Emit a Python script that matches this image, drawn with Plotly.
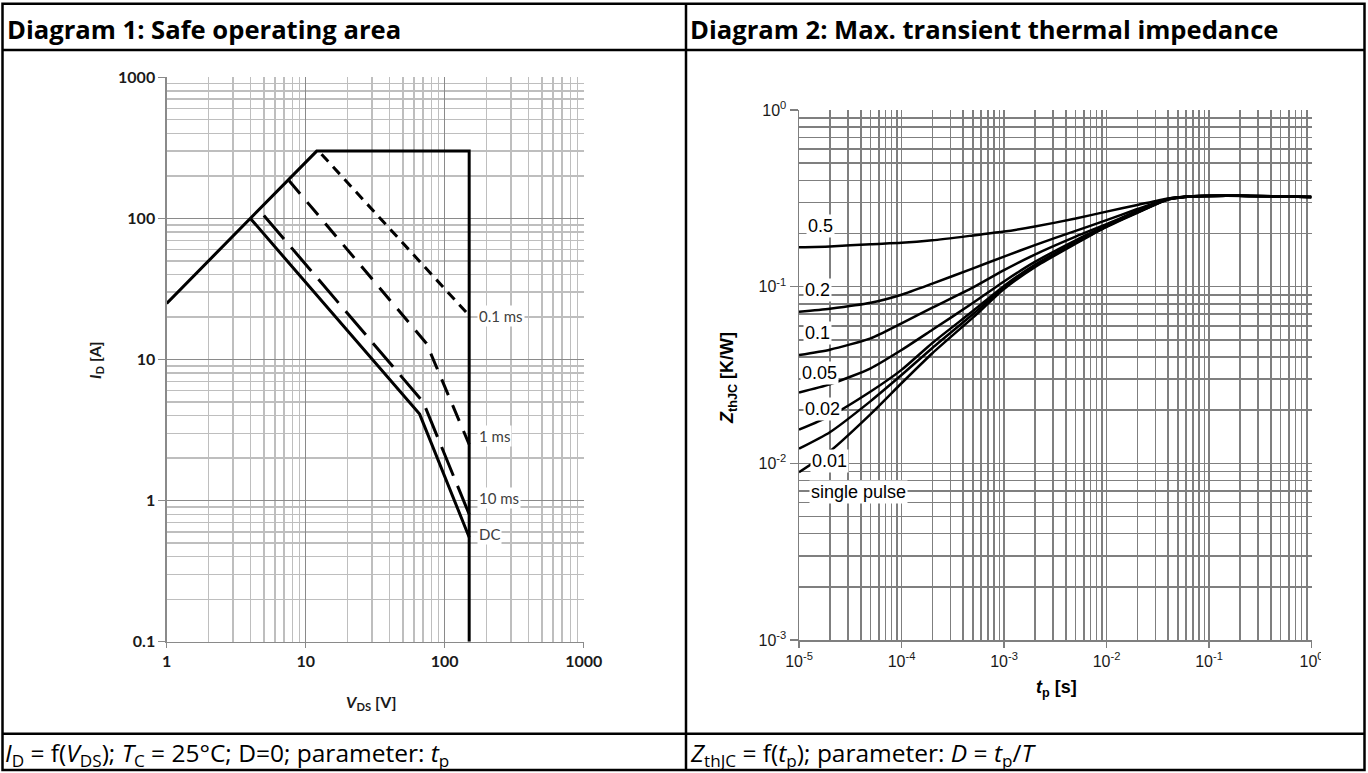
import math
import plotly.graph_objects as go

W, H = 1368, 773

# ---------------- Diagram 1: Safe operating area ----------------
SOA_LIMIT_V = [1, 12, 150, 150]
SOA_LIMIT_I = [25, 300, 300, 0.1]
TP_01MS_V = [13, 150]
TP_01MS_I = [285, 20.5]
TP_1MS_V = [7.6, 74, 150]
TP_1MS_I = [185, 13, 2.5]
TP_10MS_V = [5, 70, 150]
TP_10MS_I = [105, 5.0, 0.8]
DC_V = [4, 66, 150]
DC_I = [100, 4.1, 0.55]
SOA_X_TICKS = [1, 10, 100, 1000]
SOA_X_LABELS = ["1", "10", "100", "1000"]
SOA_Y_TICKS = [0.1, 1, 10, 100, 1000]
SOA_Y_LABELS = ["0.1", "1", "10", "100", "1000"]
SOA_NAMES = ["0.1 ms", "1 ms", "10 ms", "DC"]

# ---------------- Diagram 2: transient thermal impedance ----------------
ZTH_T = [1e-5, 2e-5, 5e-5, 1e-4, 2e-4, 5e-4, 1e-3, 2e-3, 5e-3, 1e-2, 2e-2, 4e-2, 7e-2, 1.5e-1, 2.5e-1, 1]
Z_D05 = [0.167, 0.169, 0.174, 0.177, 0.183, 0.195, 0.205, 0.219, 0.243, 0.266, 0.290, 0.316, 0.325, 0.327, 0.326, None]
Z_D02 = [0.072, 0.075, 0.081, 0.090, 0.104, 0.127, 0.148, 0.172, 0.207, 0.238, 0.275, 0.315, 0.325, 0.327, 0.326, 0.322]
Z_D01 = [0.041, 0.044, 0.051, 0.062, 0.076, 0.099, 0.124, 0.152, 0.192, 0.226, 0.268, 0.313, 0.325, 0.327, 0.326, 0.322]
Z_D005 = [0.0252, 0.028, 0.0345, 0.0438, 0.057, 0.081, 0.107, 0.138, 0.183, 0.222, 0.266, 0.313, 0.325, 0.327, 0.326, 0.322]
Z_D002 = [0.0155, 0.0185, 0.0255, 0.0338, 0.048, 0.073, 0.101, 0.133, 0.179, 0.220, 0.264, 0.312, 0.325, 0.327, 0.326, 0.322]
Z_D001 = [0.0121, 0.015, 0.0225, 0.0316, 0.045, 0.070, 0.099, 0.131, 0.177, 0.219, 0.263, 0.312, 0.325, 0.327, 0.326, 0.322]
Z_SINGLE = [0.0089, 0.0117, 0.019, 0.0284, 0.042, 0.067, 0.097, 0.129, 0.175, 0.218, 0.262, 0.311, 0.325, 0.327, 0.326, 0.322]
ZTH_X_TICKS = [1e-5, 1e-4, 1e-3, 1e-2, 1e-1, 1]
ZTH_X_LABELS = ["10<sup>-5</sup>", "10<sup>-4</sup>", "10<sup>-3</sup>", "10<sup>-2</sup>", "10<sup>-1</sup>", "10<sup>0</sup>"]
ZTH_Y_TICKS = [1e-3, 1e-2, 1e-1, 1]
ZTH_Y_LABELS = ["10<sup>-3</sup>", "10<sup>-2</sup>", "10<sup>-1</sup>", "10<sup>0</sup>"]
ZTH_NAMES = ["0.5", "0.2", "0.1", "0.05", "0.02", "0.01", "single pulse"]


def px_x(p):
    return p / W


def px_y(p):
    return 1 - p / H


fig = go.Figure()

soa_style = dict(color="black", width=3)
fig.add_trace(go.Scatter(x=SOA_LIMIT_V, y=SOA_LIMIT_I, mode="lines", line=soa_style, xaxis="x", yaxis="y"))
fig.add_trace(go.Scatter(x=TP_01MS_V, y=TP_01MS_I, mode="lines",
                         line=dict(color="black", width=3, dash="10px,7px"), xaxis="x", yaxis="y"))
fig.add_trace(go.Scatter(x=TP_1MS_V, y=TP_1MS_I, mode="lines",
                         line=dict(color="black", width=3, dash="17px,11px"), xaxis="x", yaxis="y"))
fig.add_trace(go.Scatter(x=TP_10MS_V, y=TP_10MS_I, mode="lines",
                         line=dict(color="black", width=3, dash="31px,11px"), xaxis="x", yaxis="y"))
fig.add_trace(go.Scatter(x=DC_V, y=DC_I, mode="lines", line=soa_style, xaxis="x", yaxis="y"))

for zs in [Z_D05, Z_D02, Z_D01, Z_D005, Z_D002, Z_D001, Z_SINGLE]:
    fig.add_trace(go.Scatter(x=ZTH_T, y=zs, mode="lines",
                             line=dict(color="black", width=2.5, shape="spline", smoothing=0.6),
                             xaxis="x2", yaxis="y2"))

maj1 = "#8a8a8a"
min1 = "#bebebe"
grid2 = "#7f7f7f"
calibri = "Lato"
arial = "Liberation Sans"
doc = "Open Sans"

common = dict(type="log", tickmode="array", automargin=False, zeroline=False, showgrid=True,
              showline=True, ticks="outside", fixedrange=True)

fig.update_layout(
    width=W, height=H, autosize=False,
    margin=dict(l=0, r=0, t=0, b=0, pad=0, autoexpand=False),
    paper_bgcolor="white", plot_bgcolor="white", showlegend=False,
    xaxis=dict(common, range=[0, 3], domain=[px_x(166.7), px_x(583.7)],
               tickvals=SOA_X_TICKS, ticktext=SOA_X_LABELS,
               tickfont=dict(family=calibri, size=16, color="#1a1a1a", weight="bold"),
               ticklen=5, tickcolor=maj1, tickwidth=1.3, linecolor=maj1, linewidth=1.3,
               gridcolor=maj1, gridwidth=1.3,
               minor=dict(tickmode="linear", dtick="D1", showgrid=True, gridcolor=min1, gridwidth=1.4, ticks=""),
               anchor="y"),
    yaxis=dict(common, range=[-1, 3], domain=[px_y(641.7), px_y(77.3)],
               tickvals=SOA_Y_TICKS, ticktext=SOA_Y_LABELS,
               tickfont=dict(family=calibri, size=16, color="#1a1a1a", weight="bold"),
               ticklen=7, tickcolor=maj1, tickwidth=1.3, linecolor=maj1, linewidth=1.3,
               gridcolor=maj1, gridwidth=1.3,
               minor=dict(tickmode="linear", dtick="D1", showgrid=True, gridcolor=min1, gridwidth=1.4, ticks=""),
               anchor="x"),
    xaxis2=dict(common, range=[-5, 0], domain=[px_x(799), px_x(1311.5)],
                tickvals=ZTH_X_TICKS, ticktext=ZTH_X_LABELS,
                tickfont=dict(family=arial, size=16, color="#1a1a1a"),
                ticklen=6, tickcolor=grid2, tickwidth=1.5, linecolor=grid2, linewidth=1.5,
                gridcolor=grid2, gridwidth=1.6,
                minor=dict(tickmode="linear", dtick="D1", showgrid=True, gridcolor=grid2, gridwidth=1.6, ticks=""),
                anchor="y2"),
    yaxis2=dict(common, range=[-3, 0], domain=[px_y(640), px_y(110)],
                tickvals=ZTH_Y_TICKS, ticktext=ZTH_Y_LABELS,
                tickfont=dict(family=arial, size=16, color="#1a1a1a"),
                ticklen=8, tickcolor=grid2, tickwidth=1.5, linecolor=grid2, linewidth=1.5,
                gridcolor=grid2, gridwidth=1.6,
                minor=dict(tickmode="linear", dtick="D1", showgrid=True, gridcolor=grid2, gridwidth=1.6, ticks=""),
                anchor="x2"),
)

ann = []
# Diagram 1 curve labels, next to the end of each curve at the 150 V limit
soa_lab_font = dict(family=calibri, size=15, color="#404040")
for text, yv, ysh in zip(SOA_NAMES, [TP_01MS_I[-1], TP_1MS_I[-1], TP_10MS_I[-1], DC_I[-1]], [0, 8, 16, 3]):
    ann.append(dict(x=2.23, y=math.log10(yv), xref="x", yref="y", text=text,
                    showarrow=False, xanchor="left", yanchor="middle", yshift=ysh,
                    font=soa_lab_font, bgcolor="white", borderpad=1))

# Diagram 2 curve labels
zlab_font = dict(family=arial, size=18, color="black")
for text, tx, zy in zip(ZTH_NAMES,
                        [1.17e-5, 1.09e-5, 1.09e-5, 1.02e-5, 1.09e-5, 1.28e-5, 1.25e-5],
                        [0.221, 0.0958, 0.0547, 0.0325, 0.0203, 0.0103, 0.0069]):
    ann.append(dict(x=math.log10(tx), y=math.log10(zy), xref="x2", yref="y2", text=text,
                    showarrow=False, xanchor="left", yanchor="middle",
                    font=zlab_font, bgcolor="white", borderpad=1))


def pann(x, y, text, font, xanchor="center", yanchor="middle", **kw):
    return dict(x=px_x(x), y=px_y(y), xref="paper", yref="paper", text=text, showarrow=False,
                xanchor=xanchor, yanchor=yanchor, font=font, **kw)


title1_font = dict(family=calibri, size=16, color="#1a1a1a")
title2_font = dict(family=arial, size=18, color="black")
ann += [
    pann(95, 360, "<b><i>I</i><sub>D</sub> [A]</b>", title1_font, textangle=-90),
    pann(371, 702, "<b><i>V</i><sub>DS</sub> [V]</b>", title1_font),
    pann(728, 378, "<b><i>Z</i><sub>thJC</sub> [K/W]</b>", title2_font, textangle=-90),
    pann(1056, 688, "<b><i>t</i><sub>p</sub> [s]</b>", title2_font),
]

# Table header / footer texts
head_font = dict(family=doc, size=25.6, color="black")
foot_font = dict(family=doc, size=24.5, color="black")
ann += [
    pann(5, 29.5, "<b>Diagram 1: Safe operating area</b>", head_font, xanchor="left"),
    pann(687.5, 29.5, "<b>Diagram 2: Max. transient thermal impedance</b>", head_font, xanchor="left"),
    pann(3, 753.5, "<i>I</i><sub>D</sub> = f(<i>V</i><sub>DS</sub>); <i>T</i><sub>C</sub> = 25°C; D=0; parameter: <i>t</i><sub>p</sub>",
         foot_font, xanchor="left"),
    pann(687.5, 753.5, "<i>Z</i><sub>thJC</sub> = f(<i>t</i><sub>p</sub>); parameter: <i>D</i> = <i>t</i><sub>p</sub>/<i>T</i>",
         foot_font, xanchor="left"),
]
fig.update_layout(annotations=ann)

# Table borders and the cropped right edge of the second chart image
line = dict(color="black", width=2.5)
shapes = [
    dict(type="rect", xref="paper", yref="paper", x0=px_x(1321), x1=px_x(1362), y0=px_y(680), y1=px_y(645),
         fillcolor="white", line=dict(width=0), layer="above"),
    dict(type="rect", xref="paper", yref="paper", x0=px_x(2.5), x1=px_x(1364.5), y0=px_y(770), y1=px_y(3.8),
         line=line, layer="above"),
    dict(type="line", xref="paper", yref="paper", x0=px_x(2.5), x1=px_x(1364.5), y0=px_y(50), y1=px_y(50),
         line=line, layer="above"),
    dict(type="line", xref="paper", yref="paper", x0=px_x(2.5), x1=px_x(1364.5), y0=px_y(733.7), y1=px_y(733.7),
         line=line, layer="above"),
    dict(type="line", xref="paper", yref="paper", x0=px_x(686), x1=px_x(686), y0=px_y(770), y1=px_y(3.8),
         line=line, layer="above"),
]
fig.update_layout(shapes=shapes)

fig.write_html(
    "out.html",
    config={"displayModeBar": False, "staticPlot": True},
    post_script="document.body.style.margin='0';document.body.style.overflow='hidden';",
)
